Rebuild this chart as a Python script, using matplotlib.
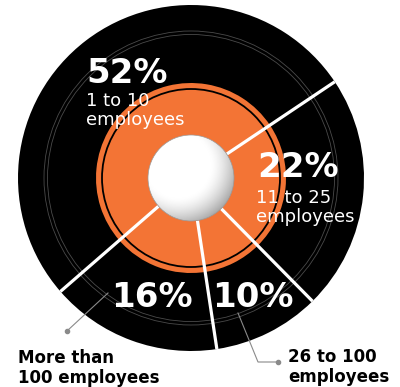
import numpy as np
import matplotlib
matplotlib.use("Agg")
import matplotlib.pyplot as plt
from matplotlib.patches import Circle

# ---------------------------------------------------------------------------
# Data
# ---------------------------------------------------------------------------
sizes = [52, 16, 10, 22]
pct_labels = ["52%", "16%", "10%", "22%"]
sub_labels = ["1 to 10\nemployees", "More than\n100 employees",
              "26 to 100\nemployees", "11 to 25\nemployees"]

ORANGE = "#f37435"
start = 33.8

# ---------------------------------------------------------------------------
# Figure (axes in pixel units, y up)
# ---------------------------------------------------------------------------
fig = plt.figure(figsize=(4.0, 3.87), dpi=100)
ax = fig.add_axes([0, 0, 1, 1])

cx, cy = 191, 209
R_out, R_org, R_hole = 173, 95, 43

ax.pie(sizes, radius=R_out, center=(cx, cy), startangle=start,
       counterclock=True, colors=["black"] * 4,
       wedgeprops=dict(linewidth=0))
ax.pie(sizes, radius=R_org, center=(cx, cy), startangle=start,
       counterclock=True, colors=[ORANGE] * 4,
       wedgeprops=dict(linewidth=0))

# thin rings
ax.add_patch(Circle((cx, cy), 89, fill=False, ec="black", lw=1.3, zorder=3))
for r in (143.5, 147):
    ax.add_patch(Circle((cx, cy), r, fill=False, ec="#4a4a4a", lw=0.6, zorder=3))

# white separators at wedge boundaries
bounds = start + 360.0 * np.cumsum([0] + sizes[:-1]) / sum(sizes)
for a in np.radians(bounds):
    ax.plot([cx + R_hole * np.cos(a), cx + R_out * np.cos(a)],
            [cy + R_hole * np.sin(a), cy + R_out * np.sin(a)],
            color="white", lw=2.3, solid_capstyle="butt", zorder=4)

# shaded hole
n = 200
gx, gy = np.meshgrid(np.linspace(-1, 1, n), np.linspace(-1, 1, n))
d = np.hypot(gx + 0.3, gy - 0.3)
shade = 1 - 0.4 * np.clip((d - 0.75) / 0.75, 0, 1) ** 1.5
im = ax.imshow(shade, cmap="gray", vmin=0, vmax=1, origin="lower",
               extent=[cx - R_hole, cx + R_hole, cy - R_hole, cy + R_hole],
               zorder=5, interpolation="bilinear")
clip = Circle((cx, cy), R_hole, transform=ax.transData)
im.set_clip_path(clip)
ax.add_patch(Circle((cx, cy), R_hole, fill=False, ec="#9a9a9a", lw=0.5, zorder=6))

# ---------------------------------------------------------------------------
# Text
# ---------------------------------------------------------------------------
big = dict(color="white", fontsize=24.5, fontweight="bold", va="baseline",
           ha="left", zorder=7)
small = dict(color="white", fontsize=13, va="baseline", ha="left",
             linespacing=1.05, zorder=7)
dark = dict(color="black", fontsize=12, fontweight="bold", va="baseline",
            ha="left", linespacing=1.15, zorder=7)

ax.text(86, 304, pct_labels[0], **big)
ax.text(86, 262, sub_labels[0], **small)
ax.text(257, 210, pct_labels[3], **big)
ax.text(256, 165, sub_labels[3], **small)
ax.text(111, 80, pct_labels[1], **big)
ax.text(212, 80, pct_labels[2], **big)
ax.text(18, 4, sub_labels[1], **dark)
ax.text(288, 5, sub_labels[2], **dark)

# leader lines
ax.plot([108, 67], [94, 56], color="#8a8a8a", lw=0.8, zorder=6)
ax.plot([67], [56], "o", color="#8a8a8a", ms=3, zorder=6)
ax.plot([238, 258, 278], [74, 25, 25], color="#8a8a8a", lw=0.8, zorder=6)
ax.plot([278], [25], "o", color="#8a8a8a", ms=3, zorder=6)

ax.set_xlim(0, 400)
ax.set_ylim(0, 387)
ax.set_aspect("equal")
ax.axis("off")

fig.savefig("out.png", dpi=100)
